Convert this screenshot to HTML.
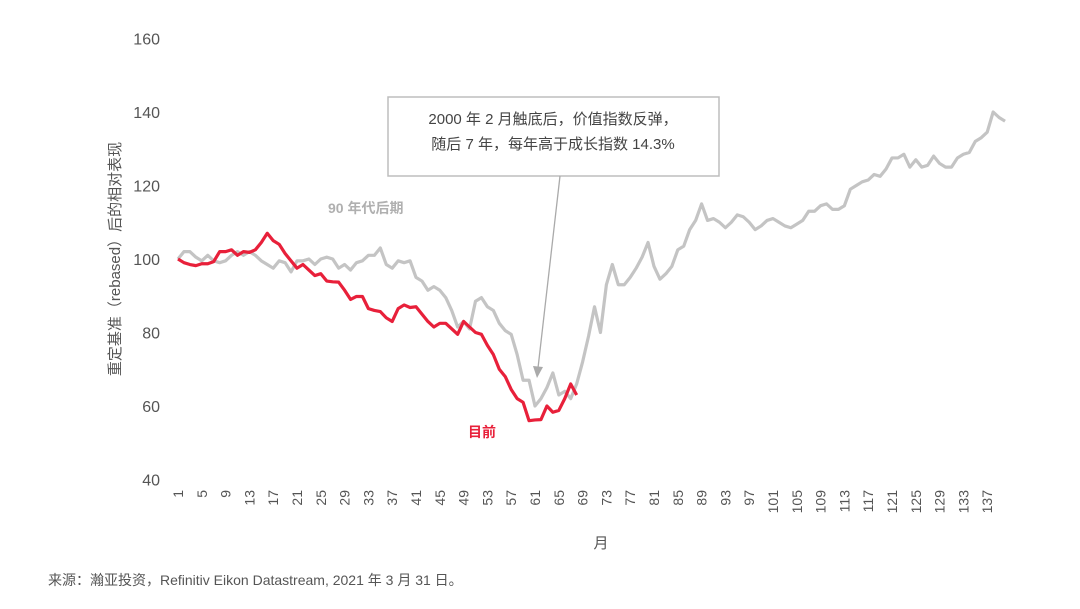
<!DOCTYPE html>
<html><head><meta charset="utf-8"><style>
body{margin:0;background:#fff;}
svg text{font-family:"Liberation Sans","Noto Sans CJK SC",sans-serif;}
</style></head><body>
<svg id="chart" width="1080" height="604" xmlns="http://www.w3.org/2000/svg">
<g id="yaxis"></g>
<g id="xaxis"></g>
<g id="series"></g>
<text transform="translate(120,259) rotate(-90)" text-anchor="middle" font-size="15" fill="#555">重定基准（rebased）后的相对表现</text>
<text x="601" y="548" text-anchor="middle" font-size="15" fill="#555">月</text>
<text x="328" y="213" font-size="14" font-weight="bold" fill="#b0b0b0">90 年代后期</text>
<text x="468" y="437" font-size="14" font-weight="bold" fill="#e8203a">目前</text>
<g>
<rect x="388" y="97" width="331" height="79" fill="#fff" stroke="#bdbdbd" stroke-width="1.5"/>
<text x="553" y="124" text-anchor="middle" font-size="15" fill="#444">2000 年 2 月触底后，价值指数反弹，</text>
<text x="553" y="149" text-anchor="middle" font-size="15" fill="#444">随后 7 年，每年高于成长指数 14.3%</text>
<line x1="560" y1="176" x2="538" y2="368" stroke="#aaa" stroke-width="1.3"/>
<polygon points="533,366 543,367 537,378" fill="#aaa"/>
</g>
<text x="48" y="585" font-size="14" fill="#555">来源：瀚亚投资，Refinitiv Eikon Datastream, 2021 年 3 月 31 日。</text>
</svg>
<script>
const yTicks=[40,60,80,100,120,140,160];
const gray=[100,102,102,100.5,99.5,101,99.5,99,99.5,101,102,101,102,101,99.5,98.5,97.5,99.5,99,96.5,99.5,99.5,100,98.5,100,100.5,100,97.5,98.5,97,99,99.5,101,101,103,98.5,97.5,99.5,99,99.5,95,94,91.5,92.5,91.5,89.5,86,81.5,83,81,88.5,89.5,87,86,82.5,80.5,79.5,74,67,67,60,62,65,69,63,64,62,66,72,79,87,80,93,98.5,93,93,95,97.5,100.5,104.5,98,94.5,96,98,102.5,103.5,108,110.5,115,110.5,111,110,108.5,110,112,111.5,110,108,109,110.5,111,110,109,108.5,109.5,110.5,113,113,114.5,115,113.5,113.5,114.5,119,120,121,121.5,123,122.5,124.5,127.5,127.5,128.5,125,127,125,125.5,128,126,125,125,127.5,128.5,129,132,133,134.5,140,138.5,137.5];
const red=[100,99,98.5,98.2,98.7,98.7,99.3,102,102,102.5,101,102,101.8,102.5,104.5,107,105,104,101.5,99.5,97.5,98.5,97,95.5,96,94,93.8,93.7,91.5,89,89.8,89.8,86.5,86,85.7,84,83,86.5,87.5,86.8,87,85,83,81.5,82.5,82.5,81,79.5,83,81.5,80,79.5,76.5,74,70,68,64.5,62,61,56,56.2,56.3,60,58.3,58.8,62,66,63];
const xTickStep=4;
const NS="http://www.w3.org/2000/svg";
const X=m=>178+(m-1)*5.95;
const Y=v=>259-(v-100)*3.675;
const ya=document.getElementById('yaxis'),xa=document.getElementById('xaxis'),sg=document.getElementById('series');
yTicks.forEach(v=>{const t=document.createElementNS(NS,'text');


t.setAttribute('x',160);t.setAttribute('y',Y(v)+6);t.setAttribute('text-anchor','end');t.setAttribute('font-size','16');t.setAttribute('fill','#555');t.textContent=v;ya.appendChild(t);});
for(let m=1;m<=gray.length;m+=xTickStep){const t=document.createElementNS(NS,'text');


t.setAttribute('transform',`translate(${X(m)+5},490) rotate(-90)`);t.setAttribute('text-anchor','end');t.setAttribute('font-size','14');t.setAttribute('fill','#555');t.textContent=m;xa.appendChild(t);}
function line(arr,color,w,name){const p=document.createElementNS(NS,'polyline');


p.setAttribute('points',arr.map((v,i)=>X(i+1)+','+Y(v)).join(' '));p.setAttribute('fill','none');p.setAttribute('stroke',color);p.setAttribute('stroke-width',w);p.setAttribute('stroke-linejoin','round');sg.appendChild(p);}
line(gray,'#c4c4c4',3.2,'line-late-90s');
line(red,'#e8203a',3.2,'line-current');
</script>
</body></html>
